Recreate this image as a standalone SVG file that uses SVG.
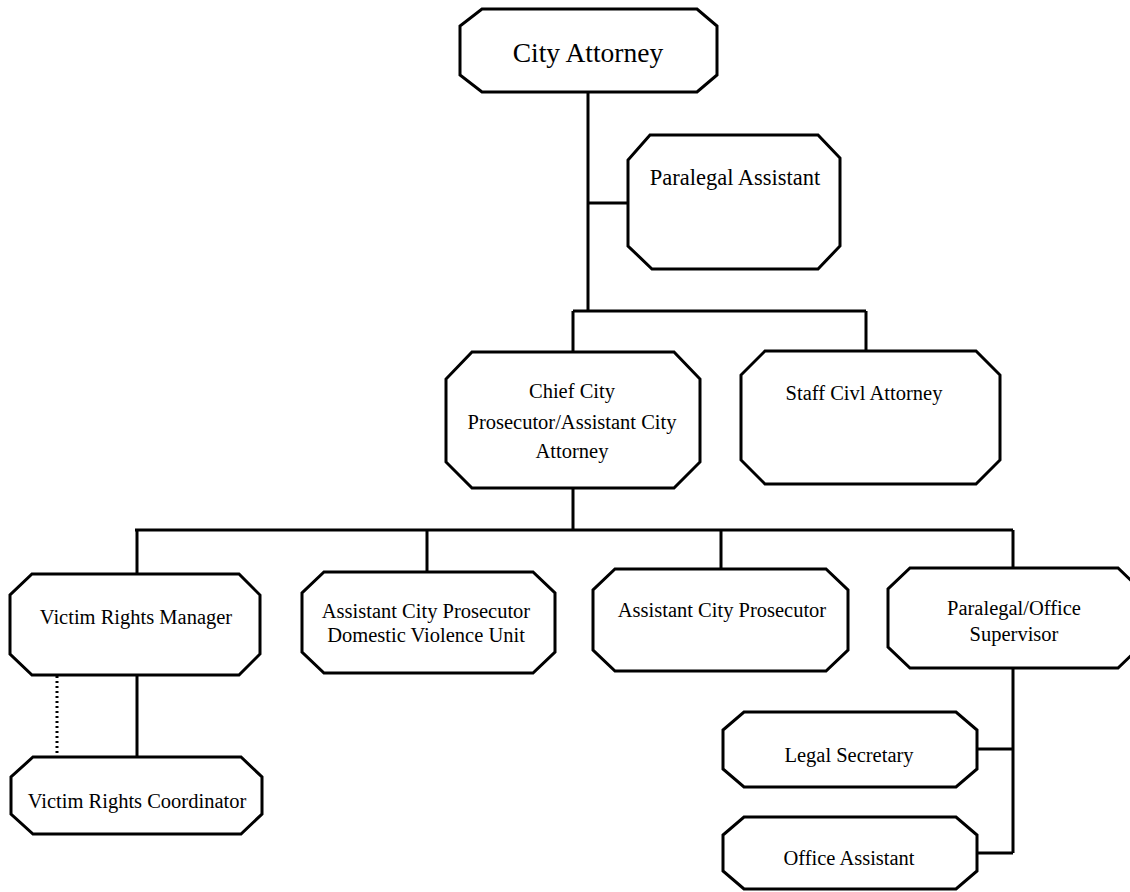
<svg xmlns="http://www.w3.org/2000/svg" width="1130" height="892" viewBox="0 0 1130 892">
<style>
.box{fill:#fff;stroke:#000;stroke-width:3;stroke-linejoin:miter}
.ln{fill:none;stroke:#000;stroke-width:3}
.dot{fill:none;stroke:#000;stroke-width:3;stroke-dasharray:2 3}
text{font-family:"Liberation Serif","Times New Roman",serif;fill:#000;text-anchor:middle}
.t{font-size:20.5px}
</style>
<rect width="1130" height="892" fill="#fff"/>
<g id="connectors">
<path class="ln" d="M588,92V311M588,203H628M573,311H866M573,311V352M866,311V351"/>
<path class="ln" d="M573,488V530M135,530H1013M137,530V574M427,530V572M721,530V569M1013,530V568"/>
<path class="ln" d="M137,675V757M1013,668V853M977,749H1013M977,853H1013"/>
<path class="dot" d="M57,676V755"/>
</g>
<g id="n-city-attorney">
<path class="box" d="M482,9H697L717,26V75L697,92H482L460,75V26Z"/>
<text x="588" y="62" font-size="27.5">City Attorney</text>
</g>
<g id="n-paralegal-assistant">
<path class="box" d="M650,135H818L840,158V246L818,269H652L628,246V160Z"/>
<text x="735" y="185" font-size="22.5">Paralegal Assistant</text>
</g>
<g id="n-chief">
<path class="box" d="M472,352H674L700,379V462L674,488H472L446,462V379Z"/>
<text class="t" x="572" y="398">Chief City</text>
<text class="t" x="572" y="429">Prosecutor/Assistant City</text>
<text class="t" x="572" y="458">Attorney</text>
</g>
<g id="n-staff-civil">
<path class="box" d="M765,351H976L1000,375V460L976,484H765L741,460V375Z"/>
<text class="t" x="864" y="400">Staff Civl Attorney</text>
</g>
<g id="n-vrm">
<path class="box" d="M32,574H239L260,595V654L239,675H32L10,654V595Z"/>
<text class="t" x="136" y="624">Victim Rights Manager</text>
</g>
<g id="n-vrc">
<path class="box" d="M33,757H241L262,777V814L241,834H33L11,814V777Z"/>
<text class="t" x="137" y="808">Victim Rights Coordinator</text>
</g>
<g id="n-acp-dvu">
<path class="box" d="M324,572H533L555,593V652L533,673H324L302,652V593Z"/>
<text class="t" x="426" y="618">Assistant City Prosecutor</text>
<text class="t" x="426" y="642">Domestic Violence Unit</text>
</g>
<g id="n-acp">
<path class="box" d="M615,569H826L848,590V650L826,671H615L593,650V590Z"/>
<text class="t" x="722" y="617">Assistant City Prosecutor</text>
</g>
<g id="n-pos">
<path class="box" d="M910,568H1118L1140,589V647L1118,668H910L888,647V589Z"/>
<text class="t" x="1014" y="615">Paralegal/Office</text>
<text class="t" x="1014" y="641">Supervisor</text>
</g>
<g id="n-legal-secretary">
<path class="box" d="M744,712H956L977,730V769L956,787H744L723,769V730Z"/>
<text class="t" x="849" y="762">Legal Secretary</text>
</g>
<g id="n-office-assistant">
<path class="box" d="M744,817H956L977,835V871L956,889H744L723,871V835Z"/>
<text class="t" x="849" y="865">Office Assistant</text>
</g>
</svg>
